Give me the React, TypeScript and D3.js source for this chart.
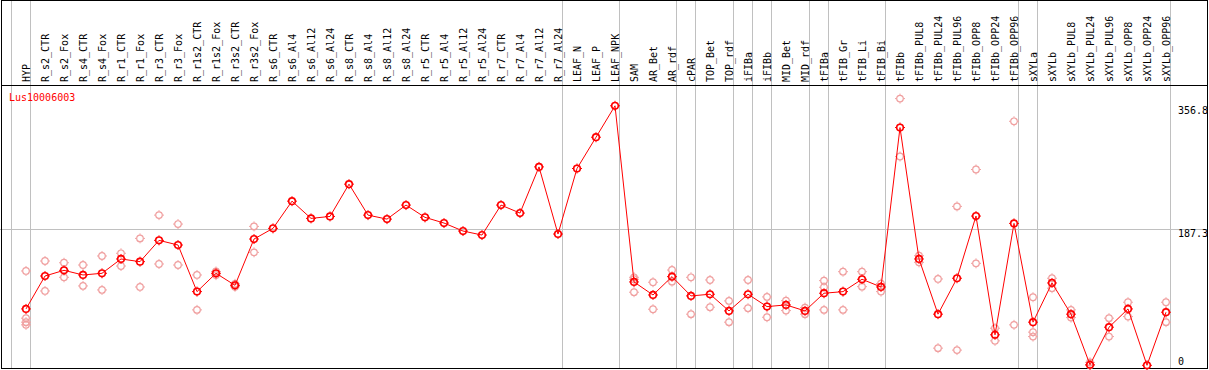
import React, { useEffect, useRef } from 'react';
import * as d3 from 'd3';

// sample names (columns)
const categories = [
  'HYP', 'R_s2_CTR', 'R_s2_Fox', 'R_s4_CTR', 'R_s4_Fox', 'R_r1_CTR', 'R_r1_Fox', 'R_r3_CTR', 'R_r3_Fox',
  'R_r1s2_CTR', 'R_r1s2_Fox', 'R_r3s2_CTR', 'R_r3s2_Fox', 'R_s6_CTR', 'R_s6_Al4', 'R_s6_Al12', 'R_s6_Al24',
  'R_s8_CTR', 'R_s8_Al4', 'R_s8_Al12', 'R_s8_Al24', 'R_r5_CTR', 'R_r5_Al4', 'R_r5_Al12', 'R_r5_Al24',
  'R_r7_CTR', 'R_r7_Al4', 'R_r7_Al12', 'R_r7_Al24', 'LEAF_N', 'LEAF_P', 'LEAF_NPK', 'SAM', 'AR_Bet', 'AR_rdf',
  'cPAR', 'TOP_Bet', 'TOP_rdf', 'iFIBa', 'iFIBb', 'MID_Bet', 'MID_rdf', 'tFIBa', 'tFIB_Gr', 'tFIB_Li', 'tFIB_Bi',
  'tFIBb', 'tFIBb_PUL8', 'tFIBb_PUL24', 'tFIBb_PUL96', 'tFIBb_OPP8', 'tFIBb_OPP24', 'tFIBb_OPP96',
  'sXYLa', 'sXYLb', 'sXYLb_PUL8', 'sXYLb_PUL24', 'sXYLb_PUL96', 'sXYLb_OPP8', 'sXYLb_OPP24', 'sXYLb_OPP96',
];

// mean expression per sample
const meanValues = [
  77.5, 122.8, 130.6, 124.2, 126.5, 146.2, 142.5, 171.8, 165.4,
  101.3, 126.5, 110, 173.6, 188.3, 225.7, 202, 204.7,
  249.1, 206.5, 201, 220.3, 203.4, 195.6, 184.6, 179.1,
  220.3, 209.3, 272.8, 180.5, 270.6, 313.6, 356.8, 114.6, 96.7, 121.9,
  95.4, 97.7, 74.8, 97.7, 80.7, 83, 74.8, 99.1, 101.3, 118.3, 107.7,
  326.9, 146.2, 70.3, 119.7, 205.2, 41.9, 195.1,
  59.3, 113.2, 70.3, 0.7, 52.4, 77.5, 0, 73,
];

// individual replicates
const replicateValues = [
  [129.7, 64.8, 59.3, 55.6], [143.4, 102.2], [141, 121], [137.9, 109.1], [150.3, 103.6],
  [154, 136.5], [174.5, 107.7], [206.5, 139.3], [194.2, 137.9],
  [124.2, 76.2], [129, 124], [112, 108], [191, 155.3], [], [], [], [],
  [], [], [], [], [], [], [], [],
  [], [], [], [], [], [], [], [121, 118.3, 100.5], [114.2, 77.1], [131, 115],
  [121, 70.3], [117.3, 79.9], [88.5, 59.3], [117.3, 78.5], [94, 66.1], [88.9, 75.2], [79.3, 70.3],
  [116.4, 107.3, 76.2], [128.7, 76.2], [128.7, 108.1], [112.3, 101.3],
  [366.7, 287.1], [150.7, 141.6], [118.7, 23.6], [218.5, 20.9], [269.2, 140.2], [51, 33.6], [335.5, 55.6],
  [93.6, 45.6, 39.5], [119.7, 106], [76.2, 65.6], [4, 0], [64.8, 39.5], [86.7, 67], [], [86.7, 59.3],
];

// group separators: line drawn after these sample indices
const groupEnds = [-1, 0, 28, 31, 34, 35, 37, 38, 39, 41, 42, 45, 52, 53, 60];

const yTicks = [356.8, 187.3, 0];
const geneName = 'Lus10006003';

const width = 1209;
const height = 370;

const App = () => {
  const svgRef = useRef<SVGSVGElement>(null);

  useEffect(() => {
    const svg = d3.select(svgRef.current);
    svg.selectAll('*').remove();

    const headerY = 85;
    const right = 1207.5;
    const bottom = 368.5;
    const font = '"DejaVu Sans Mono", monospace';

    const x = d3.scalePoint<string>().domain(categories).range([26, 1166]);
    const step = x.step();
    const y = d3.scaleLinear().domain([0, 356.8]).range([365.3, 105.8]);

    // group separators
    groupEnds.forEach(i => {
      const gx = Math.round(26 + step * i + 4.5) - 0.5;
      svg.append('line')
        .attr('x1', gx).attr('x2', gx)
        .attr('y1', 0).attr('y2', bottom)
        .attr('stroke', '#c0c0c0').attr('stroke-width', 1);
    });

    // middle gridline
    const gy = Math.round(y(187.3)) + 0.5;
    svg.append('line')
      .attr('x1', 0).attr('x2', right)
      .attr('y1', gy).attr('y2', gy)
      .attr('stroke', '#c0c0c0');

    // sample labels
    categories.forEach(c => {
      svg.append('text')
        .attr('transform', `translate(${(x(c) as number) + 4}, 82) rotate(-90)`)
        .attr('font-family', font)
        .attr('font-size', '10px')
        .attr('fill', '#000')
        .text(c);
    });

    // frame
    svg.append('rect')
      .attr('x', 1.5).attr('y', 0.5)
      .attr('width', right - 1.5).attr('height', bottom - 0.5)
      .attr('fill', 'none').attr('stroke', '#000');
    svg.append('line')
      .attr('x1', 1).attr('x2', right)
      .attr('y1', headerY + 0.5).attr('y2', headerY + 0.5)
      .attr('stroke', '#000');

    // y labels
    yTicks.forEach(t => {
      svg.append('text')
        .attr('x', 1178)
        .attr('y', t === 0 ? y(t) : y(t) + 8)
        .attr('font-family', font)
        .attr('font-size', '10px')
        .attr('fill', '#000')
        .text(String(t));
    });

    // gene name
    svg.append('text')
      .attr('x', 9).attr('y', 101)
      .attr('font-family', font)
      .attr('font-size', '10px')
      .attr('fill', '#ff0000')
      .text(geneName);

    const marker = (g: any, cx: number, cy: number, color: string, sw: number) => {
      const m = g.append('g').attr('transform', `translate(${cx}, ${cy})`);
      m.append('circle').attr('r', 3.3).attr('fill', 'none').attr('stroke', color).attr('stroke-width', sw);
      [[0, -1], [0, 1], [-1, 0], [1, 0]].forEach(([dx, dy]) => {
        m.append('line')
          .attr('x1', dx * 3.5).attr('y1', dy * 3.5)
          .attr('x2', dx * 5).attr('y2', dy * 5)
          .attr('stroke', color).attr('stroke-width', 1);
      });
    };

    // replicates
    const reps = svg.append('g');
    replicateValues.forEach((vals, i) => {
      vals.forEach(v => marker(reps, x(categories[i]) as number, y(v), '#f0a0a0', 1.2));
    });

    // mean line
    const line = d3.line<number>()
      .x((_, i) => x(categories[i]) as number)
      .y(d => y(d));
    svg.append('path')
      .datum(meanValues)
      .attr('d', line)
      .attr('fill', 'none')
      .attr('stroke', '#ff0000')
      .attr('stroke-width', 1);

    const means = svg.append('g');
    meanValues.forEach((v, i) => marker(means, x(categories[i]) as number, y(v), '#ff0000', 1.6));
  }, []);

  return (
    <svg ref={svgRef} width={width} height={height}
      style={{ position: 'absolute', left: 0, top: 0, background: '#fff' }} />
  );
};

export default App;
